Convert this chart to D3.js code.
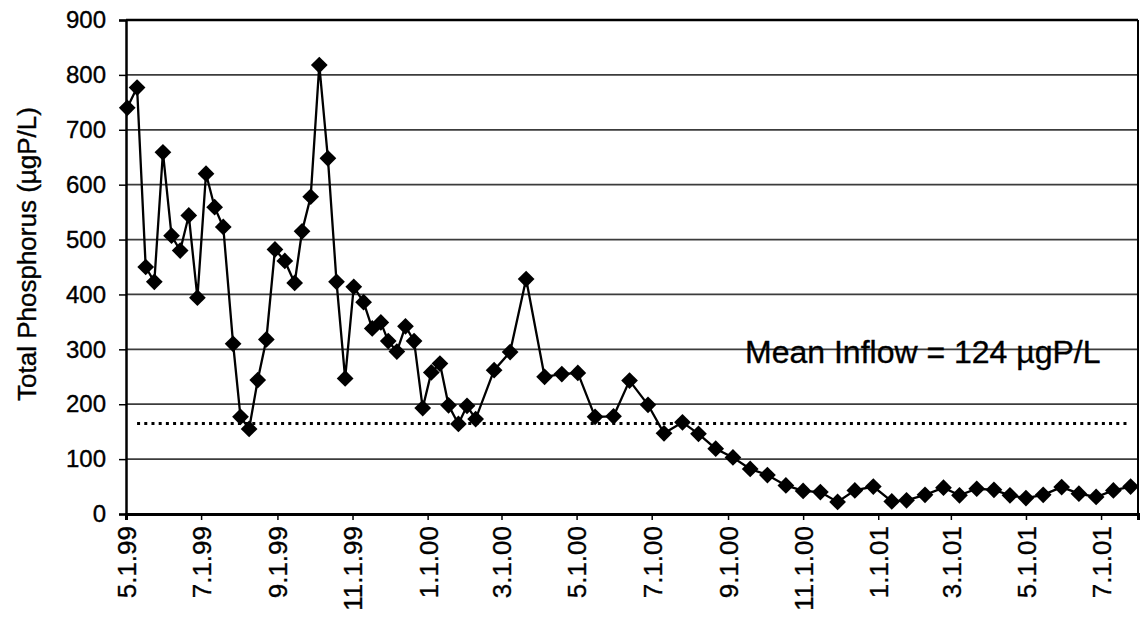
<!DOCTYPE html>
<html>
<head>
<meta charset="utf-8">
<script src="https://cdnjs.cloudflare.com/ajax/libs/d3/7.8.5/d3.min.js"></script>
<style>
  body { margin: 0; background: #fff; }
  text { font-family: "Liberation Sans", Arial, Helvetica, sans-serif; fill: #000; stroke: #000; stroke-width: 0.35px; }
</style>
</head>
<body>
<script>
// Sampling dates and total phosphorus (ugP/L)
var sampleDates = [
  "1999-05-02","1999-05-10","1999-05-17","1999-05-24","1999-05-31","1999-06-07","1999-06-14","1999-06-21",
  "1999-06-28","1999-07-05","1999-07-12","1999-07-19","1999-07-27","1999-08-02","1999-08-09","1999-08-16",
  "1999-08-23","1999-08-30","1999-09-07","1999-09-15","1999-09-21","1999-09-28","1999-10-05","1999-10-12",
  "1999-10-19","1999-10-26","1999-11-02","1999-11-10","1999-11-17","1999-11-24","1999-11-30","1999-12-07",
  "1999-12-14","1999-12-21","1999-12-28","2000-01-04","2000-01-11","2000-01-18","2000-01-26","2000-02-02",
  "2000-02-09","2000-02-24","2000-03-08","2000-03-21","2000-04-05","2000-04-19","2000-05-02","2000-05-16",
  "2000-05-31","2000-06-13","2000-06-28","2000-07-11","2000-07-26","2000-08-08","2000-08-22","2000-09-05",
  "2000-09-19","2000-10-03","2000-10-18","2000-11-01","2000-11-15","2000-11-29","2000-12-13","2000-12-28",
  "2001-01-12","2001-01-24","2001-02-08","2001-02-23","2001-03-08","2001-03-22","2001-04-05","2001-04-18",
  "2001-05-01","2001-05-15","2001-05-30","2001-06-13","2001-06-27","2001-07-11","2001-07-25"
];
var phosphorus = [
  740, 777, 450, 423, 659, 507, 480, 544, 394, 620,
  559, 523, 310, 177, 155, 244, 318, 482, 461, 421,
  515, 578, 818, 648, 423, 247, 414, 386, 338, 349,
  315, 296, 342, 315, 193, 258, 274, 198, 164, 197,
  173, 262, 295, 428, 250, 255, 257, 177, 178, 243,
  199, 147, 167, 146, 119, 103, 82, 71, 52, 42,
  40, 22, 43, 50, 23, 25, 35, 48, 34, 46,
  44, 34, 29, 35, 49, 37, 31, 43, 50
];

// dotted reference line
var refDates = ["1999-05-10", "2001-07-25"];
var refValue = 165;
var refLabel = "Mean Inflow = 124 \u00b5gP/L";

// axes
var xDomain = ["1999-05-01", "2001-07-31"];
var xTickDates = ["1999-05-01","1999-07-01","1999-09-01","1999-11-01","2000-01-01","2000-03-01","2000-05-01",
                  "2000-07-01","2000-09-01","2000-11-01","2001-01-01","2001-03-01","2001-05-01","2001-07-01"];
var xTickLabels = ["5.1.99","7.1.99","9.1.99","11.1.99","1.1.00","3.1.00","5.1.00",
                   "7.1.00","9.1.00","11.1.00","1.1.01","3.1.01","5.1.01","7.1.01"];
var yTicks = [0, 100, 200, 300, 400, 500, 600, 700, 800, 900];
var yTitle = "Total Phosphorus (\u00b5gP/L)";

var svgWidth = 1140;
var svgHeight = 623;

var chartMargin = {
    top: 20,
    right: 2,
    bottom: 109,
    left: 126
  };

var chartWidth = svgWidth - chartMargin.left - chartMargin.right;
var chartHeight = svgHeight - chartMargin.top - chartMargin.bottom;

var parseDate = d3.timeParse("%Y-%m-%d");

var svg = d3.select("body")
            .append("svg")
            .attr("width", svgWidth)
            .attr("height", svgHeight);

var chartGroup = svg.append("g")
                    .attr("transform", `translate(${chartMargin.left}, ${chartMargin.top})`);

var Data = sampleDates.map(function(d, i) {
    return { date: parseDate(d), value: phosphorus[i] };
});

var x = d3.scaleTime()
          .domain(xDomain.map(parseDate))
          .range([0, chartWidth]);

var y = d3.scaleLinear()
          .domain([0, 900])
          .range([chartHeight, 0]);

// horizontal gridlines
chartGroup.append("g")
          .selectAll("line")
          .data(yTicks.filter(function(t) { return t > 0; }))
          .enter()
          .append("line")
          .attr("x1", 0)
          .attr("x2", chartWidth)
          .attr("y1", function(d) { return y(d); })
          .attr("y2", function(d) { return y(d); })
          .attr("stroke", function(d) { return d === 900 ? "#000" : "#3c3c3c"; })
          .attr("stroke-width", function(d) { return d === 900 ? 2.5 : 1.7; });

// right border
chartGroup.append("line")
          .attr("x1", chartWidth).attr("x2", chartWidth)
          .attr("y1", 0).attr("y2", chartHeight)
          .attr("stroke", "#000")
          .attr("stroke-width", 2);

// y axis
var yAxis = chartGroup.append("g")
                      .call(d3.axisLeft(y).tickValues(yTicks).tickSize(7).tickPadding(13));
yAxis.select(".domain").attr("stroke-width", 2.5);
yAxis.selectAll(".tick line").attr("stroke-width", 1.5);
yAxis.selectAll("text")
     .style("font-size", "24px")
     .attr("fill", "#000");

// x axis
var xAxis = chartGroup.append("g")
                      .attr("transform", "translate(0," + chartHeight + ")")
                      .call(d3.axisBottom(x)
                              .tickValues(xTickDates.map(parseDate))
                              .tickFormat(function(d, i) { return xTickLabels[i]; })
                              .tickSize(6));
xAxis.select(".domain").attr("stroke-width", 3);
xAxis.selectAll(".tick line").attr("stroke-width", 1.5);
xAxis.selectAll("text")
     .style("font-size", "26px")
     .attr("fill", "#000")
     .attr("text-anchor", "end")
     .attr("transform", "rotate(-90)")
     .attr("x", -12)
     .attr("y", 0)
     .attr("dy", "0.36em");

// dotted reference line
chartGroup.append("line")
          .attr("x1", x(parseDate(refDates[0])))
          .attr("x2", x(parseDate(refDates[1])))
          .attr("y1", y(refValue))
          .attr("y2", y(refValue))
          .attr("stroke", "#000")
          .attr("stroke-width", 3)
          .attr("stroke-dasharray", "3,4.2");

// data line
var line = d3.line()
             .x(function(d) { return x(d.date); })
             .y(function(d) { return y(d.value); });

chartGroup.append("path")
          .datum(Data)
          .attr("fill", "none")
          .attr("stroke", "#000")
          .attr("stroke-width", 2.3)
          .attr("d", line);

// diamond markers
var diamond = d3.symbol().type(d3.symbolSquare).size(140);

chartGroup.selectAll(".marker")
          .data(Data)
          .enter()
          .append("path")
          .attr("class", "marker")
          .attr("d", diamond)
          .attr("transform", function(d) { return "translate(" + x(d.date) + "," + y(d.value) + ") rotate(45)"; })
          .attr("fill", "#000");

// annotation
chartGroup.append("text")
          .attr("x", 745 - chartMargin.left)
          .attr("y", 363 - chartMargin.top)
          .style("font-size", "32px")
          .text(refLabel);

// y axis title
chartGroup.append("text")
          .attr("transform", "rotate(-90)")
          .attr("x", 0 - (254 - chartMargin.top))
          .attr("y", 0 - chartMargin.left + 36)
          .attr("text-anchor", "middle")
          .style("font-size", "26px")
          .text(yTitle);
</script>
</body>
</html>
